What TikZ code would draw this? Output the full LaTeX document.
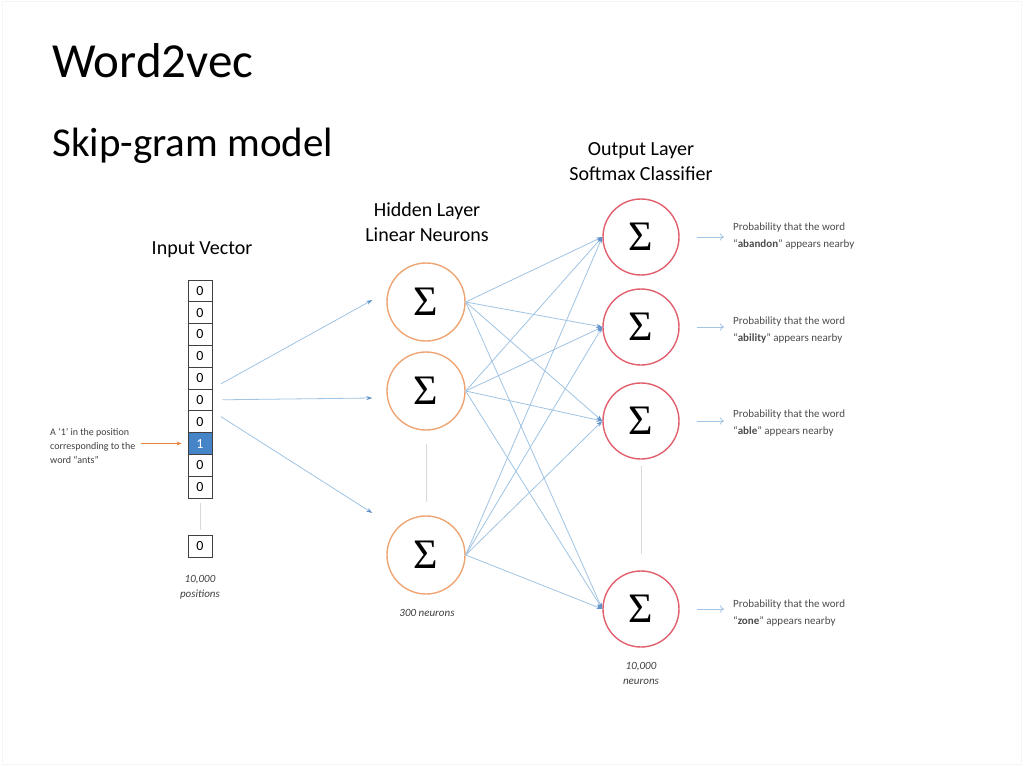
\documentclass[tikz,border=0pt]{standalone}
\usepackage{fontspec}
\setmainfont{Carlito}
\newfontfamily\sigmafont{Liberation Serif}
\usetikzlibrary{positioning,arrows.meta}

\definecolor{linkblue}{RGB}{160,196,228}
\definecolor{tipblue}{RGB}{95,145,200}
\definecolor{hidorange}{RGB}{238,165,115}
\definecolor{outred}{RGB}{226,95,110}
\definecolor{onefill}{RGB}{70,132,200}
\definecolor{antorange}{RGB}{232,130,60}

\begin{document}
\begin{tikzpicture}[x=1pt,y=-1pt,
  hidden/.style={circle,draw=hidorange,line width=1.4pt,minimum size=78pt,inner sep=0pt,
    font=\sigmafont\fontsize{42}{42}\selectfont},
  output/.style={circle,draw=outred,line width=1.4pt,minimum size=76pt,inner sep=0pt,
    font=\sigmafont\fontsize{42}{42}\selectfont},
  cell/.style={draw=black!75,line width=0.8pt,minimum width=24pt,minimum height=21.8pt,
    inner sep=0pt,font=\fontsize{14}{14}\selectfont},
  layer/.style={align=center,font=\fontsize{20}{25}\selectfont},
  note/.style={align=center,font=\fontsize{11}{15}\selectfont\itshape,text=black!75},
  prob/.style={anchor=west,align=left,inner sep=0pt,font=\fontsize{11}{17}\selectfont,text=black!70},
  link/.style={draw=linkblue,line width=0.8pt,-{Stealth[length=6pt,width=4pt,color=tipblue]}},
  outlink/.style={draw=linkblue,line width=0.8pt,-{To[length=4pt,width=7pt]},shorten <=17pt,shorten >=9pt},
  dots/.style={draw=black!15,line width=0.8pt}]
%
\useasboundingbox (0,0) rectangle (1024,767);
\fill[white] (0,0) rectangle (1024,767);
\draw[black!4,line width=1pt] (2,2) rectangle (1021,764);
%
% titles
\node[anchor=base west,inner sep=0pt,font=\fontsize{49}{49}\selectfont] (title) at (52,78) {Word2vec};
\node[anchor=base west,inner sep=0pt,font=\fontsize{41}{41}\selectfont] (subtitle) at (52,157) {Skip-gram model};
%
% input vector
\node[layer] (inlabel) at (202,250) {Input Vector};
\foreach \i in {1,...,10}
  \node[cell] (b\i) at (200,{280+21.8*(\i-0.5)}) {0};
\node[cell,fill=onefill,text=white] (b8) at (200,{280+21.8*7.5}) {1};
\node[cell] (b11) at (200,546) {0};
\draw[dots,shorten <=5pt,shorten >=5pt] (b10.south) -- (b11.north);
\node[note] (inpos) at (200,587) {10,000\\positions};
%
\node[anchor=west,align=left,inner sep=0pt,font=\fontsize{10}{14}\selectfont,text=black!75]
  (ants) at (50,446) {A ‘1’ in the position\\corresponding to the\\word “ants”};
\draw[antorange,line width=1pt,-{Stealth[length=5pt,width=4pt]},shorten <=6pt,shorten >=6pt]
  (ants.east |- b8) -- (b8.west);
%
% hidden layer
\node[layer] (hidlabel) at (427,222) {Hidden Layer\\Linear Neurons};
\node[hidden] (h1) at (426,302) {Σ};
\node[hidden] (h2) at (426,391) {Σ};
\node[hidden] (h3) at (426,555) {Σ};
\draw[dots,shorten <=13pt,shorten >=13pt] (h2.south) -- (h3.north);
\node[note] (hidcount) at (427,613) {300 neurons};
%
\coordinate (h1in) at ([shift={(-14,-2)}]h1.west);
\coordinate (h2in) at ([shift={(-14,7)}]h2.west);
\coordinate (h3in) at ([shift={(-14,-42)}]h3.west);
\draw[link,shorten <=10pt] (b6.north east) -- (h1in);
\draw[link,shorten <=10pt] (b6.east) -- (h2in);
\draw[link,shorten <=10pt] (b6.south east) -- (h3in);
%
% output layer
\node[layer] (outlabel) at (641,162) {Output Layer\\Softmax Classifier};
\node[output] (o1) at (641,237) {Σ};
\node[output] (o2) at (641,327) {Σ};
\node[output] (o3) at (641,421) {Σ};
\node[output] (o4) at (641,609) {Σ};
\draw[dots,shorten <=6pt,shorten >=16pt] (o3.south) -- (o4.north);
\node[note] (outcount) at (641,673) {10,000\\neurons};
%
\foreach \h in {1,2,3}
  \foreach \o in {1,...,4}
    \draw[link] (h\h.east) -- (o\o.west);
%
% probabilities
\node[prob] (p1) at (733,236) {Probability that the word\\“\textbf{abandon}” appears nearby};
\node[prob] (p2) at (733,330) {Probability that the word\\“\textbf{ability}” appears nearby};
\node[prob] (p3) at (733,423) {Probability that the word\\“\textbf{able}” appears nearby};
\node[prob] (p4) at (733,613) {Probability that the word\\“\textbf{zone}” appears nearby};
\foreach \i in {1,...,4}
  \draw[outlink] (o\i.east) -- (o\i.east -| p\i.west);
\end{tikzpicture}
\end{document}
